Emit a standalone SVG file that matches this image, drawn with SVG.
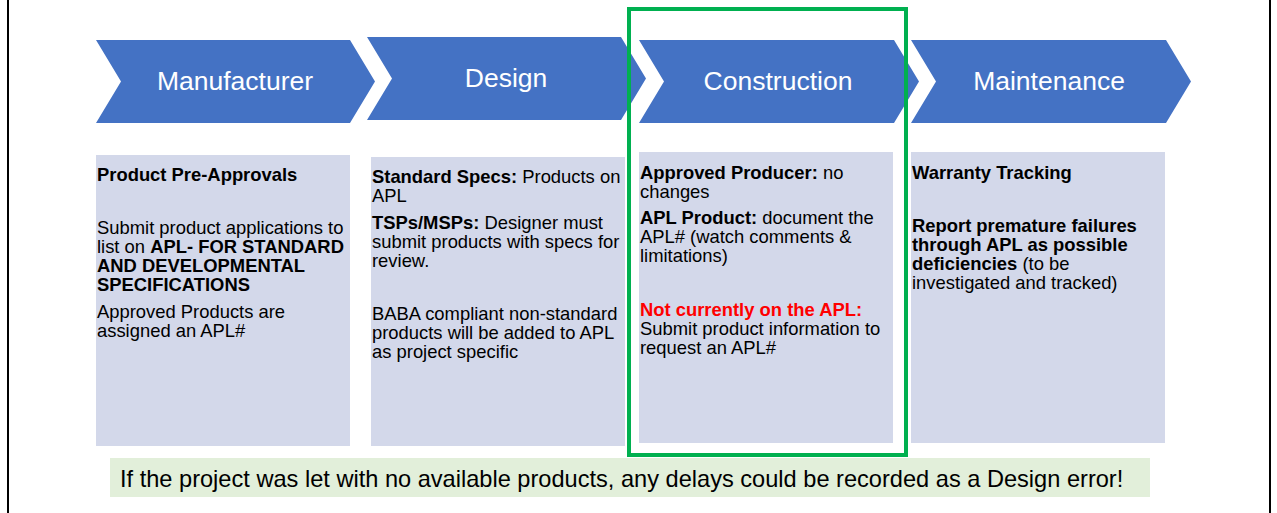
<svg xmlns="http://www.w3.org/2000/svg" width="1277" height="513" viewBox="0 0 1277 513">
<style>
.chev{fill:#4472C4}
.chl{font-family:"Liberation Sans",Arial,sans-serif;font-size:26.5px;fill:#fff;text-anchor:middle}
.box{fill:#D3D8EA}
.t{font-family:"Liberation Sans",Arial,sans-serif;font-size:18.4px;fill:#000}
.b{font-weight:bold}
.red{fill:#FF0000;font-weight:bold}
</style>
<rect x="0" y="0" width="1277" height="513" fill="#fff"/>
<line x1="8" y1="0" x2="8" y2="513" stroke="#000" stroke-width="2"/>
<line x1="1270" y1="0" x2="1270" y2="513" stroke="#000" stroke-width="2"/>
<g id="manufacturer">
<polygon class="chev" points="96,40 350,40 375,81.5 350,123 96,123 121,81.5"/>
<text class="chl" x="235" y="90">Manufacturer</text>
</g>
<g id="design">
<polygon class="chev" points="367,37 621,37 646,78.5 621,120 367,120 392,78.5"/>
<text class="chl" x="506" y="87">Design</text>
</g>
<g id="construction">
<polygon class="chev" points="639,40 894,40 919,81.5 894,123 639,123 664,81.5"/>
<text class="chl" x="778" y="90">Construction</text>
</g>
<g id="maintenance">
<polygon class="chev" points="911,40 1166,40 1191,81.5 1166,123 911,123 936,81.5"/>
<text class="chl" x="1049" y="90">Maintenance</text>
</g>
<g id="box-manufacturer">
<rect class="box" x="96" y="155" width="254" height="291"/>
<text class="t b" x="97" y="181">Product Pre-Approvals</text>
<text class="t" x="97" y="234">Submit product applications to</text>
<text class="t" x="97" y="253">list on <tspan class="b">APL- FOR STANDARD</tspan></text>
<text class="t b" x="97" y="272">AND DEVELOPMENTAL</text>
<text class="t b" x="97" y="291">SPECIFICATIONS</text>
<text class="t" x="97" y="318">Approved Products are</text>
<text class="t" x="97" y="337">assigned an APL#</text>
</g>
<g id="box-design">
<rect class="box" x="371" y="157" width="254" height="289"/>
<text class="t" x="372" y="183"><tspan class="b">Standard Specs:</tspan> Products on</text>
<text class="t" x="372" y="202">APL</text>
<text class="t" x="372" y="229"><tspan class="b">TSPs/MSPs:</tspan> Designer must</text>
<text class="t" x="372" y="248">submit products with specs for</text>
<text class="t" x="372" y="267">review.</text>
<text class="t" x="372" y="320">BABA compliant non-standard</text>
<text class="t" x="372" y="339">products will be added to APL</text>
<text class="t" x="372" y="358">as project specific</text>
</g>
<g id="box-construction">
<rect class="box" x="639" y="152" width="254" height="291"/>
<text class="t" x="640" y="179"><tspan class="b">Approved Producer:</tspan> no</text>
<text class="t" x="640" y="198">changes</text>
<text class="t" x="640" y="224"><tspan class="b">APL Product:</tspan> document the</text>
<text class="t" x="640" y="243">APL# (watch comments &amp;</text>
<text class="t" x="640" y="262">limitations)</text>
<text class="t red" x="640" y="316">Not currently on the APL:</text>
<text class="t" x="640" y="335">Submit product information to</text>
<text class="t" x="640" y="354">request an APL#</text>
</g>
<g id="box-maintenance">
<rect class="box" x="911" y="152" width="254" height="291"/>
<text class="t b" x="912" y="179">Warranty Tracking</text>
<text class="t b" x="912" y="232">Report premature failures</text>
<text class="t b" x="912" y="251">through APL as possible</text>
<text class="t" x="912" y="270"><tspan class="b">deficiencies</tspan> (to be</text>
<text class="t" x="912" y="289">investigated and tracked)</text>
</g>
<g id="note">
<rect x="110" y="458" width="1040" height="39" fill="#E2EFDA"/>
<text x="120" y="487" font-family="Liberation Sans, Arial, sans-serif" font-size="23.6" fill="#000">If the project was let with no available products, any delays could be recorded as a Design error!</text>
</g>
<g id="highlight">
<rect x="629" y="9" width="277" height="446" fill="none" stroke="#00B050" stroke-width="4"/>
</g>
<g id="connectors"></g>
</svg>
